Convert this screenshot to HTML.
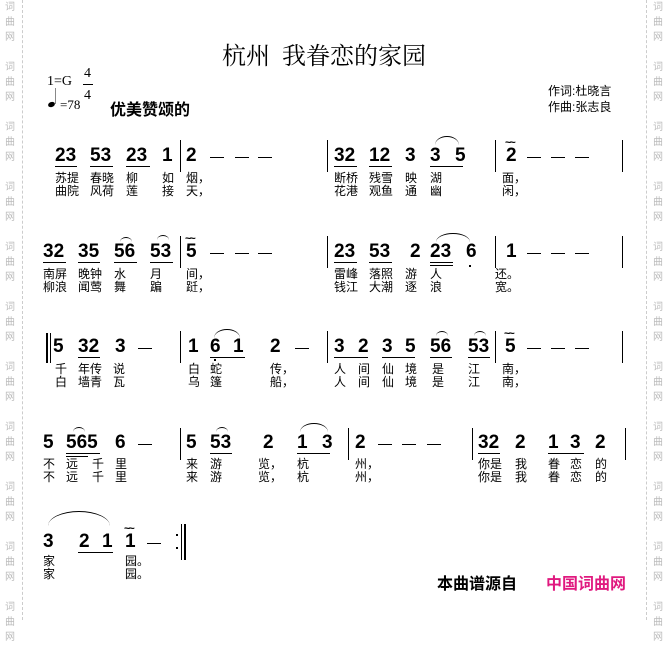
<!DOCTYPE html>
<html><head><meta charset="utf-8"><style>
body{margin:0;width:668px;height:620px;background:#fff;position:relative;overflow:hidden;font-family:"Liberation Sans","Noto Sans CJK SC",sans-serif}
div,span{position:absolute}
.n{font:bold 19px "Liberation Sans",sans-serif;line-height:18px;color:#000;white-space:pre}
.l{font-size:12px;line-height:13px;white-space:pre;font-family:"Liberation Sans","WenQuanYi Zen Hei",sans-serif}
.u{height:0;border-top:1.5px solid #000}
.b{width:0;border-left:1.5px solid #000}
.d{width:14px;height:0;border-top:1.5px solid #000}
.s{height:8px;border-top:1px solid #000;border-radius:50%/100% 100% 0 0}
.t{font:bold 11px "Liberation Sans",sans-serif;letter-spacing:-2px;line-height:8px}
.w{font-size:10px;color:#bbb;line-height:15px;font-family:"WenQuanYi Zen Hei",sans-serif}
.v{top:0;height:620px;width:0;border-left:1px dashed #ccc}
</style></head><body>
<div class="v" style="left:22px"></div><div class="v" style="left:646px"></div>
<div class="w" style="left:5px;top:0">词<br>曲<br>网<br><br>词<br>曲<br>网<br><br>词<br>曲<br>网<br><br>词<br>曲<br>网<br><br>词<br>曲<br>网<br><br>词<br>曲<br>网<br><br>词<br>曲<br>网<br><br>词<br>曲<br>网<br><br>词<br>曲<br>网<br><br>词<br>曲<br>网<br><br>词<br>曲<br>网<br></div>
<div class="w" style="left:653px;top:0">词<br>曲<br>网<br><br>词<br>曲<br>网<br><br>词<br>曲<br>网<br><br>词<br>曲<br>网<br><br>词<br>曲<br>网<br><br>词<br>曲<br>网<br><br>词<br>曲<br>网<br><br>词<br>曲<br>网<br><br>词<br>曲<br>网<br><br>词<br>曲<br>网<br><br>词<br>曲<br>网<br></div>

<div style="left:222px;top:36px;font:24px 'Liberation Serif','Noto Serif CJK SC',serif;white-space:pre">杭州  我眷恋的家园</div>
<div style="left:47px;top:74px;font:14px 'Liberation Serif',serif">1=G</div>
<div style="left:84px;top:63px;font:14px 'Liberation Serif',serif;line-height:22px;text-align:center">4<br>4</div>
<div style="left:83px;top:84px;width:10px;border-top:1px solid #000"></div>
<div style="left:55px;top:88px;width:0;height:16px;border-left:1px solid #888"></div>
<div style="left:48px;top:102px;width:7px;height:5px;background:#000;border-radius:50%;transform:rotate(-20deg)"></div>
<div style="left:60px;top:97px;font:13px 'Liberation Serif',serif">=78</div>
<div style="left:110px;top:96px;font-size:16px;font-weight:bold">优美赞颂的</div>
<div class="l" style="left:548px;top:85px">作词:杜晓言</div>
<div class="l" style="left:548px;top:101px">作曲:张志良</div>

<!-- Row 1 -->
<span class="n" style="left:55px;top:147px">23</span><span class="n" style="left:90px;top:147px">53</span><span class="n" style="left:126px;top:147px">23</span><span class="n" style="left:162px;top:147px">1</span>
<div class="b" style="left:180px;top:140px;height:32px"></div>
<span class="n" style="left:186px;top:147px">2</span>
<div class="d" style="left:210px;top:157px"></div><div class="d" style="left:235px;top:157px"></div><div class="d" style="left:258px;top:157px"></div>
<div class="b" style="left:327px;top:140px;height:32px"></div>
<span class="n" style="left:334px;top:147px">32</span><span class="n" style="left:369px;top:147px">12</span><span class="n" style="left:405px;top:147px">3</span><span class="n" style="left:430px;top:147px">3</span><span class="n" style="left:455px;top:147px">5</span>
<div class="b" style="left:495px;top:140px;height:32px"></div>
<span class="n" style="left:506px;top:147px">2</span><span class="t" style="left:505px;top:139px">~~</span>
<div class="d" style="left:527px;top:157px"></div><div class="d" style="left:551px;top:157px"></div><div class="d" style="left:575px;top:157px"></div>
<div class="b" style="left:622px;top:140px;height:32px"></div>
<div class="u" style="left:55px;top:166px;width:22px"></div><div class="u" style="left:90px;top:166px;width:23px"></div><div class="u" style="left:126px;top:166px;width:24px"></div>
<div class="u" style="left:334px;top:166px;width:23px"></div><div class="u" style="left:369px;top:166px;width:23px"></div><div class="u" style="left:430px;top:166px;width:33px"></div>
<div class="s" style="left:435px;top:136px;width:24px"></div>
<span class="l" style="left:55px;top:172px">苏提</span><span class="l" style="left:90px;top:172px">春晓</span><span class="l" style="left:126px;top:172px">柳</span><span class="l" style="left:162px;top:172px">如</span><span class="l" style="left:186px;top:172px">烟，</span>
<span class="l" style="left:55px;top:185px">曲院</span><span class="l" style="left:90px;top:185px">风荷</span><span class="l" style="left:126px;top:185px">莲</span><span class="l" style="left:162px;top:185px">接</span><span class="l" style="left:186px;top:185px">天，</span>
<span class="l" style="left:334px;top:172px">断桥</span><span class="l" style="left:369px;top:172px">残雪</span><span class="l" style="left:405px;top:172px">映</span><span class="l" style="left:430px;top:172px">湖</span><span class="l" style="left:502px;top:172px">面，</span>
<span class="l" style="left:334px;top:185px">花港</span><span class="l" style="left:369px;top:185px">观鱼</span><span class="l" style="left:405px;top:185px">通</span><span class="l" style="left:430px;top:185px">幽</span><span class="l" style="left:502px;top:185px">闲，</span>

<!-- Row 2 -->
<span class="n" style="left:43px;top:243px">32</span><span class="n" style="left:78px;top:243px">35</span><span class="n" style="left:114px;top:243px">56</span><span class="n" style="left:150px;top:243px">53</span>
<div class="b" style="left:180px;top:236px;height:32px"></div>
<span class="n" style="left:186px;top:243px">5</span><span class="t" style="left:185px;top:235px">~~</span>
<div class="d" style="left:210px;top:253px"></div><div class="d" style="left:235px;top:253px"></div><div class="d" style="left:258px;top:253px"></div>
<div class="b" style="left:327px;top:236px;height:32px"></div>
<span class="n" style="left:334px;top:243px">23</span><span class="n" style="left:369px;top:243px">53</span><span class="n" style="left:410px;top:243px">2</span><span class="n" style="left:430px;top:243px">23</span><span class="n" style="left:466px;top:243px">6</span>
<div class="b" style="left:495px;top:236px;height:32px"></div>
<span class="n" style="left:506px;top:243px">1</span>
<div class="d" style="left:527px;top:253px"></div><div class="d" style="left:551px;top:253px"></div><div class="d" style="left:575px;top:253px"></div>
<div class="b" style="left:622px;top:236px;height:32px"></div>
<div class="u" style="left:43px;top:262px;width:23px"></div><div class="u" style="left:78px;top:262px;width:22px"></div><div class="u" style="left:114px;top:262px;width:23px"></div><div class="u" style="left:150px;top:262px;width:23px"></div>
<div class="u" style="left:334px;top:262px;width:23px"></div><div class="u" style="left:369px;top:262px;width:23px"></div><div class="u" style="left:430px;top:262px;width:23px"></div><div class="u" style="left:430px;top:265px;width:23px"></div>
<div style="left:469px;top:265px;width:2px;height:2px;background:#000"></div>
<div class="s" style="left:120px;top:237px;width:12px;height:4px"></div><div class="s" style="left:157px;top:235px;width:12px;height:4px"></div><div class="s" style="left:436px;top:233px;width:34px"></div>
<span class="l" style="left:43px;top:268px">南屏</span><span class="l" style="left:78px;top:268px">晚钟</span><span class="l" style="left:114px;top:268px">水</span><span class="l" style="left:150px;top:268px">月</span><span class="l" style="left:186px;top:268px">间，</span>
<span class="l" style="left:43px;top:281px">柳浪</span><span class="l" style="left:78px;top:281px">闻莺</span><span class="l" style="left:114px;top:281px">舞</span><span class="l" style="left:150px;top:281px">蹁</span><span class="l" style="left:186px;top:281px">跹，</span>
<span class="l" style="left:334px;top:268px">雷峰</span><span class="l" style="left:369px;top:268px">落照</span><span class="l" style="left:405px;top:268px">游</span><span class="l" style="left:430px;top:268px">人</span><span class="l" style="left:495px;top:268px">还。</span>
<span class="l" style="left:334px;top:281px">钱江</span><span class="l" style="left:369px;top:281px">大潮</span><span class="l" style="left:405px;top:281px">逐</span><span class="l" style="left:430px;top:281px">浪</span><span class="l" style="left:495px;top:281px">宽。</span>

<!-- Row 3 -->
<div class="b" style="left:46px;top:333px;height:30px;border-left-width:2px"></div><div class="b" style="left:50px;top:333px;height:30px;border-left-width:1px"></div>
<span class="n" style="left:53px;top:338px">5</span>
<span class="n" style="left:78px;top:338px">32</span><span class="n" style="left:115px;top:338px">3</span>
<div class="d" style="left:138px;top:348px"></div>
<div class="b" style="left:180px;top:331px;height:32px"></div>
<span class="n" style="left:188px;top:338px">1</span><span class="n" style="left:210px;top:338px">6</span><span class="n" style="left:233px;top:338px">1</span><span class="n" style="left:270px;top:338px">2</span>
<div class="d" style="left:295px;top:348px"></div>
<div class="b" style="left:327px;top:331px;height:32px"></div>
<span class="n" style="left:334px;top:338px">3</span><span class="n" style="left:358px;top:338px">2</span><span class="n" style="left:382px;top:338px">3</span><span class="n" style="left:405px;top:338px">5</span><span class="n" style="left:430px;top:338px">56</span><span class="n" style="left:468px;top:338px">53</span>
<div class="b" style="left:495px;top:331px;height:32px"></div>
<span class="n" style="left:505px;top:338px">5</span><span class="t" style="left:504px;top:330px">~~</span>
<div class="d" style="left:527px;top:348px"></div><div class="d" style="left:551px;top:348px"></div><div class="d" style="left:575px;top:348px"></div>
<div class="b" style="left:622px;top:331px;height:32px"></div>
<div class="u" style="left:78px;top:357px;width:22px"></div><div class="u" style="left:210px;top:357px;width:35px"></div>
<div class="u" style="left:334px;top:357px;width:34px"></div><div class="u" style="left:382px;top:357px;width:33px"></div><div class="u" style="left:430px;top:357px;width:22px"></div><div class="u" style="left:468px;top:357px;width:22px"></div>
<div style="left:214px;top:359px;width:2px;height:2px;background:#000"></div>
<div class="s" style="left:214px;top:329px;width:26px"></div><div class="s" style="left:436px;top:331px;width:12px;height:4px"></div><div class="s" style="left:474px;top:331px;width:12px;height:4px"></div>
<span class="l" style="left:55px;top:363px">千</span><span class="l" style="left:78px;top:363px">年传</span><span class="l" style="left:113px;top:363px">说</span><span class="l" style="left:188px;top:363px">白</span><span class="l" style="left:210px;top:363px">蛇</span><span class="l" style="left:270px;top:363px">传，</span>
<span class="l" style="left:55px;top:376px">白</span><span class="l" style="left:78px;top:376px">墙青</span><span class="l" style="left:113px;top:376px">瓦</span><span class="l" style="left:188px;top:376px">乌</span><span class="l" style="left:210px;top:376px">篷</span><span class="l" style="left:270px;top:376px">船，</span>
<span class="l" style="left:334px;top:363px">人</span><span class="l" style="left:358px;top:363px">间</span><span class="l" style="left:382px;top:363px">仙</span><span class="l" style="left:405px;top:363px">境</span><span class="l" style="left:432px;top:363px">是</span><span class="l" style="left:468px;top:363px">江</span><span class="l" style="left:502px;top:363px">南，</span>
<span class="l" style="left:334px;top:376px">人</span><span class="l" style="left:358px;top:376px">间</span><span class="l" style="left:382px;top:376px">仙</span><span class="l" style="left:405px;top:376px">境</span><span class="l" style="left:432px;top:376px">是</span><span class="l" style="left:468px;top:376px">江</span><span class="l" style="left:502px;top:376px">南，</span>

<!-- Row 4 -->
<span class="n" style="left:43px;top:434px">5</span><span class="n" style="left:66px;top:434px">565</span><span class="n" style="left:115px;top:434px">6</span>
<div class="d" style="left:138px;top:444px"></div>
<div class="b" style="left:180px;top:428px;height:32px"></div>
<span class="n" style="left:186px;top:434px">5</span><span class="n" style="left:210px;top:434px">53</span><span class="n" style="left:263px;top:434px">2</span><span class="n" style="left:297px;top:434px">1</span><span class="n" style="left:322px;top:434px">3</span>
<div class="b" style="left:348px;top:428px;height:32px"></div>
<span class="n" style="left:355px;top:434px">2</span>
<div class="d" style="left:378px;top:444px"></div><div class="d" style="left:402px;top:444px"></div><div class="d" style="left:427px;top:444px"></div>
<div class="b" style="left:472px;top:428px;height:32px"></div>
<span class="n" style="left:478px;top:434px">32</span><span class="n" style="left:515px;top:434px">2</span><span class="n" style="left:548px;top:434px">1</span><span class="n" style="left:570px;top:434px">3</span><span class="n" style="left:595px;top:434px">2</span>
<div class="b" style="left:625px;top:428px;height:32px"></div>
<div class="u" style="left:66px;top:453px;width:34px"></div><div class="u" style="left:66px;top:456px;width:22px"></div><div class="u" style="left:210px;top:453px;width:22px"></div><div class="u" style="left:297px;top:453px;width:33px"></div>
<div class="u" style="left:478px;top:453px;width:22px"></div><div class="u" style="left:548px;top:453px;width:36px"></div>
<div class="s" style="left:73px;top:427px;width:12px;height:4px"></div><div class="s" style="left:216px;top:427px;width:12px;height:4px"></div><div class="s" style="left:300px;top:423px;width:28px"></div>
<span class="l" style="left:43px;top:458px">不</span><span class="l" style="left:66px;top:458px">远</span><span class="l" style="left:92px;top:458px">千</span><span class="l" style="left:115px;top:458px">里</span><span class="l" style="left:186px;top:458px">来</span><span class="l" style="left:210px;top:458px">游</span><span class="l" style="left:258px;top:458px">览，</span><span class="l" style="left:297px;top:458px">杭</span><span class="l" style="left:355px;top:458px">州，</span><span class="l" style="left:478px;top:458px">你是</span><span class="l" style="left:515px;top:458px">我</span><span class="l" style="left:548px;top:458px">眷</span><span class="l" style="left:570px;top:458px">恋</span><span class="l" style="left:595px;top:458px">的</span>
<span class="l" style="left:43px;top:471px">不</span><span class="l" style="left:66px;top:471px">远</span><span class="l" style="left:92px;top:471px">千</span><span class="l" style="left:115px;top:471px">里</span><span class="l" style="left:186px;top:471px">来</span><span class="l" style="left:210px;top:471px">游</span><span class="l" style="left:258px;top:471px">览，</span><span class="l" style="left:297px;top:471px">杭</span><span class="l" style="left:355px;top:471px">州，</span><span class="l" style="left:478px;top:471px">你是</span><span class="l" style="left:515px;top:471px">我</span><span class="l" style="left:548px;top:471px">眷</span><span class="l" style="left:570px;top:471px">恋</span><span class="l" style="left:595px;top:471px">的</span>

<!-- Row 5 -->
<span class="n" style="left:43px;top:533px">3</span><span class="n" style="left:79px;top:533px">2</span><span class="n" style="left:102px;top:533px">1</span><span class="n" style="left:125px;top:533px">1</span><span class="t" style="left:124px;top:525px">~~</span>
<div class="d" style="left:147px;top:543px"></div>
<div style="left:176px;top:534px;width:2px;height:2px;background:#000"></div><div style="left:176px;top:547px;width:2px;height:2px;background:#000"></div>
<div class="b" style="left:181px;top:524px;height:36px;border-left-width:1px"></div><div class="b" style="left:184px;top:524px;height:36px;border-left-width:2px"></div>
<div class="u" style="left:78px;top:552px;width:35px"></div>
<div class="s" style="left:48px;top:511px;width:62px;height:14px"></div>
<span class="l" style="left:43px;top:555px">家</span><span class="l" style="left:125px;top:555px">园。</span>
<span class="l" style="left:43px;top:568px">家</span><span class="l" style="left:125px;top:568px">园。</span>

<div style="left:437px;top:570px;font-size:16px;font-weight:bold">本曲谱源自</div>
<div style="left:546px;top:570px;font-size:16px;font-weight:bold;color:#e0197f">中国词曲网</div>
</body></html>
